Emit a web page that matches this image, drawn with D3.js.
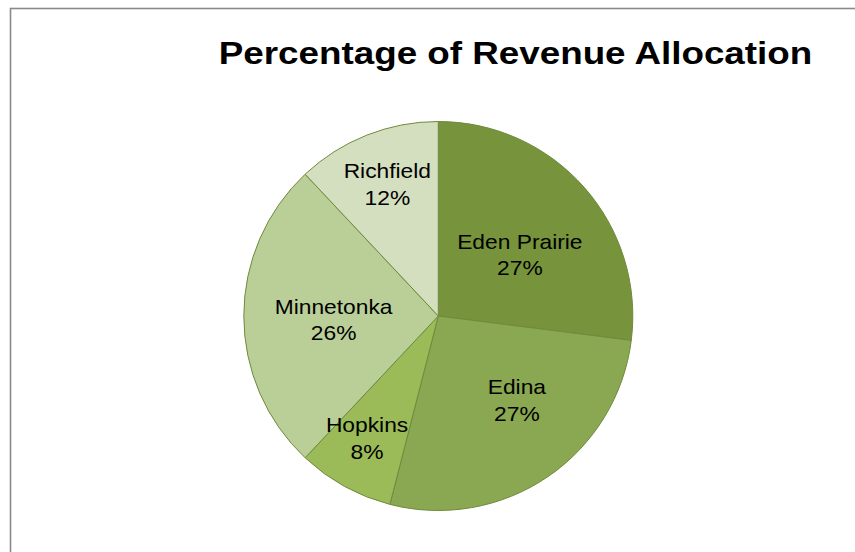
<!DOCTYPE html>
<html>
<head>
<meta charset="utf-8">
<script src="https://cdn.jsdelivr.net/npm/d3@7"></script>
<style>
  html, body { margin: 0; padding: 0; background: #ffffff; }
  svg { display: block; }
  text { font-family: "Liberation Sans", Arial, sans-serif; fill: #000; }
</style>
</head>
<body>
<svg id="chart" width="855" height="552"></svg>
<script>
// Revenue share by city, in percent
const cities = ["Eden Prairie", "Edina", "Hopkins", "Minnetonka", "Richfield"];
const shares = [27, 27, 8, 26, 12];
const sliceColors = ["#77933c", "#8aa751", "#9bbb59", "#bacf98", "#d3dfbf"];
const chartTitle = "Percentage of Revenue Allocation";

const W = 855, H = 552;
const cx = 438.3, cy = 316, R = 194.5;
const textStretch = 1.14;

// small label nudges so each label sits where it reads best inside its slice
const labelNudge = {
  "Eden Prairie": [-6, 16],
  "Edina": [13, -12],
  "Hopkins": [-15, 20],
  "Minnetonka": [12, 4],
  "Richfield": [-8, -23]
};

const svg = d3.select("#chart");

// chart area frame
svg.append("rect")
  .attr("x", 10.5).attr("y", 8.5)
  .attr("width", 900).attr("height", 600)
  .attr("fill", "none")
  .attr("stroke", "#8a8a8a")
  .attr("stroke-width", 1.6);

// title
svg.append("text")
  .attr("transform", `translate(515.5,64) scale(1.15,1)`)
  .attr("text-anchor", "middle")
  .attr("font-size", 32)
  .attr("font-weight", "bold")
  .text(chartTitle);

const data = cities.map((c, i) => ({ city: c, share: shares[i] }));
const pie = d3.pie().value(d => d.share).sort(null);
const arcs = pie(data);
const color = d3.scaleOrdinal().domain(cities).range(sliceColors);

const arc = d3.arc().innerRadius(0).outerRadius(R);
const labelArc = d3.arc().innerRadius(R * 0.6).outerRadius(R * 0.6);

const g = svg.append("g").attr("transform", `translate(${cx},${cy})`);

g.selectAll("path.slice")
  .data(arcs)
  .join("path")
  .attr("class", "slice")
  .attr("d", arc)
  .attr("fill", d => color(d.data.city))
  .attr("stroke", "#6f8a3c")
  .attr("stroke-width", 1);

const labels = g.selectAll("g.label")
  .data(arcs)
  .join("g")
  .attr("class", "label")
  .attr("transform", d => {
    const [x, y] = labelArc.centroid(d);
    const [nx, ny] = labelNudge[d.data.city] || [0, 0];
    return `translate(${x + nx},${y + ny}) scale(${textStretch},1)`;
  });

labels.append("text")
  .attr("text-anchor", "middle")
  .attr("font-size", 20)
  .attr("y", -6.2)
  .text(d => d.data.city);

labels.append("text")
  .attr("text-anchor", "middle")
  .attr("font-size", 20)
  .attr("y", 20.5)
  .text(d => Math.round(d.data.share) + "%");
</script>
</body>
</html>
